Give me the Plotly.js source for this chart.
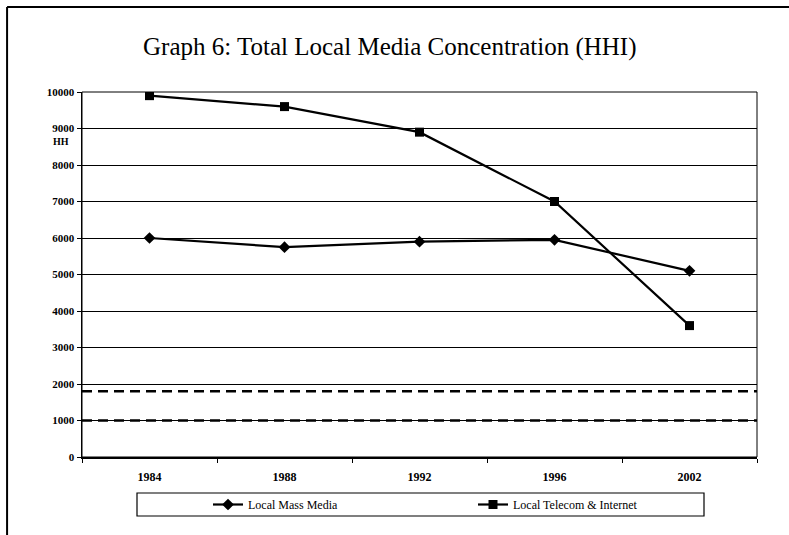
<!DOCTYPE html>
<html>
<head>
<meta charset="utf-8">
<script src="https://cdn.plot.ly/plotly-3.0.1.min.js"></script>
<style>html,body{margin:0;padding:0;background:#fff;}#chart{width:789px;height:535px;}</style>
</head>
<body>
<div id="chart"></div>
<script>
var years = ["1984", "1988", "1992", "1996", "2002"];
var massMedia = [6000, 5750, 5900, 5950, 5100];
var telecom = [9900, 9600, 8900, 7000, 3600];
var thresholds = [1000, 1800];
var yTicks = [0, 1000, 2000, 3000, 4000, 5000, 6000, 7000, 8000, 9000, 10000];

var serif = "Liberation Serif, Times New Roman, serif";

var traces = [
  {x: years, y: massMedia, name: "Local Mass Media", type: "scatter", mode: "lines+markers",
   line: {color: "#000", width: 2.2}, marker: {symbol: "diamond", size: 9, color: "#000"}},
  {x: years, y: telecom, name: "Local Telecom & Internet", type: "scatter", mode: "lines+markers",
   line: {color: "#000", width: 2.2}, marker: {symbol: "square", size: 9, color: "#000"}}
];

var shapes = thresholds.map(function (t) {
  return {type: "line", xref: "paper", yref: "y", x0: 0, x1: 1, y0: t, y1: t,
          line: {color: "#000", width: 2.5, dash: "10px,6px"}, layer: "above"};
});
// plot area frame
shapes.push({type: "rect", xref: "paper", yref: "paper", x0: 0, x1: 1, y0: 0, y1: 1,
             line: {color: "#000", width: 1}});
// outer chart frame (left and top edges)
shapes.push({type: "line", xref: "paper", yref: "paper", x0: -0.111, x1: -0.111, y0: -0.3, y1: 1.233,
             line: {color: "#000", width: 2}});
shapes.push({type: "line", xref: "paper", yref: "paper", x0: -0.111, x1: 1.1, y0: 1.233, y1: 1.233,
             line: {color: "#000", width: 2}});
// legend box
shapes.push({type: "rect", xref: "paper", yref: "paper", x0: (137-82)/675, x1: (704-82)/675,
             y0: (457-516)/365, y1: (457-493)/365, line: {color: "#000", width: 1.2}});

var layout = {
  width: 789, height: 535,
  margin: {l: 82, r: 32, t: 92, b: 78, autoexpand: false},
  paper_bgcolor: "#fff", plot_bgcolor: "#fff",
  title: {text: "Graph 6: Total Local Media Concentration (HHI)", font: {family: serif, size: 25, color: "#000"},
          x: 0.494, xanchor: "center", y: 1 - 46/535, yanchor: "middle"},
  xaxis: {type: "category", tickson: "boundaries", ticks: "outside", ticklen: 4, tickcolor: "#000",
          showgrid: false, showline: true, linecolor: "#000", linewidth: 1.5, ticklabelstandoff: 8,
          tickfont: {family: serif, size: 12, color: "#000", weight: "bold"}, fixedrange: true,
          range: [-0.5, 4.5]},
  yaxis: {range: [0, 10000], tickvals: yTicks, ticktext: yTicks.map(String), ticks: "outside", ticklen: 4,
          tickcolor: "#000", showgrid: true, gridcolor: "#000", gridwidth: 1, zeroline: false,
          showline: true, linecolor: "#000", linewidth: 1.5,
          tickfont: {family: serif, size: 11, color: "#000", weight: "bold"}, fixedrange: true},
  showlegend: true,
  legend: {orientation: "h", x: (208-82)/675, xanchor: "left", y: (457-504.5)/365, yanchor: "middle",
           bgcolor: "rgba(0,0,0,0)", borderwidth: 0, entrywidth: 220, entrywidthmode: "pixels",
           itemwidth: 30, font: {family: serif, size: 12, color: "#000"}},
  shapes: shapes,
  annotations: [{text: "<b>HH</b>", xref: "paper", yref: "paper", x: (51-82)/675, y: (457-141)/365,
                 xanchor: "left", yanchor: "middle", showarrow: false,
                 font: {family: serif, size: 10, color: "#000"}}]
};

Plotly.newPlot("chart", traces, layout, {displayModeBar: false, staticPlot: true});
</script>
</body>
</html>
